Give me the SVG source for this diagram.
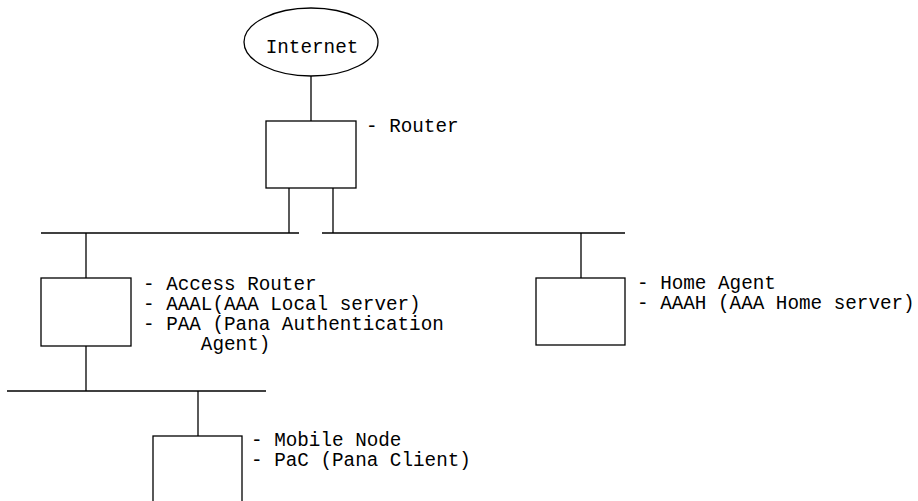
<svg xmlns="http://www.w3.org/2000/svg" width="918" height="501" viewBox="0 0 918 501">
<style>
.s{fill:#fff;stroke:#000;stroke-width:1.3}
.l{fill:none;stroke:#000;stroke-width:1.3}
text{font-family:"Liberation Mono","Courier New",monospace;font-size:19.3px;fill:#000;white-space:pre}
</style>
<rect width="918" height="501" fill="#fff"/>
<g id="connectors">
<line class="l" x1="311" y1="76" x2="311" y2="121"/>
<line class="l" x1="289" y1="188" x2="289" y2="233"/>
<line class="l" x1="333" y1="188" x2="333" y2="233"/>
<line class="l" x1="41" y1="233" x2="299" y2="233"/>
<line class="l" x1="322" y1="233" x2="625" y2="233"/>
<line class="l" x1="86" y1="233" x2="86" y2="278"/>
<line class="l" x1="581" y1="233" x2="581" y2="278"/>
<line class="l" x1="86" y1="346" x2="86" y2="391"/>
<line class="l" x1="7" y1="391" x2="266" y2="391"/>
<line class="l" x1="198" y1="391" x2="198" y2="436"/>
</g>
<g id="internet">
<ellipse class="s" cx="311" cy="42" rx="67" ry="34"/>
<text x="312" y="53" text-anchor="middle">Internet</text>
</g>
<g id="router">
<rect class="s" x="266" y="121" width="90" height="67"/>
<text x="366" y="132">- Router</text>
</g>
<g id="access-router">
<rect class="s" x="41" y="278" width="90" height="68"/>
<text x="143" y="290">- Access Router</text>
<text x="143" y="310">- AAAL(AAA Local server)</text>
<text x="143" y="330">- PAA (Pana Authentication</text>
<text x="143" y="350">     Agent)</text>
</g>
<g id="home-agent">
<rect class="s" x="536" y="278" width="89" height="67"/>
<text x="637" y="289">- Home Agent</text>
<text x="637" y="309">- AAAH (AAA Home server)</text>
</g>
<g id="mobile-node">
<rect class="s" x="153" y="436" width="89" height="80"/>
<text x="251" y="446">- Mobile Node</text>
<text x="251" y="466">- PaC (Pana Client)</text>
</g>
</svg>
